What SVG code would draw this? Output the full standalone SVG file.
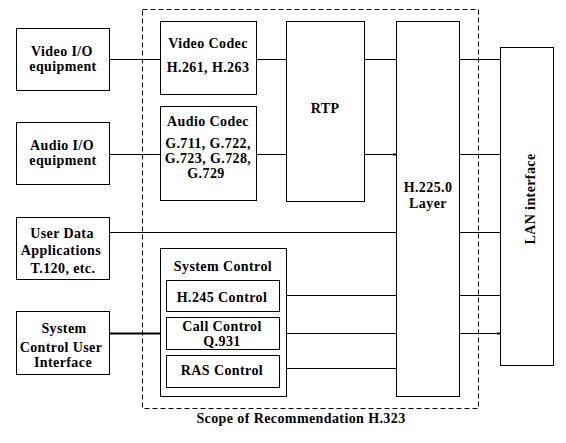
<svg xmlns="http://www.w3.org/2000/svg" width="566" height="443" viewBox="0 0 566 443">
<style>
.b{fill:#fff;stroke:#000;stroke-width:1}
.t{font-family:"Liberation Serif","Times New Roman",serif;font-weight:bold;font-size:14px;letter-spacing:0.4px;text-anchor:middle;fill:#000}
.c{stroke:#000;stroke-width:1;fill:none}
</style>
<rect width="566" height="443" fill="#fff"/>
<g id="scope">
<rect x="142.5" y="9.5" width="336" height="399" fill="none" stroke="#000" stroke-width="1" stroke-dasharray="5,3"/>
<text class="t" x="301" y="423">Scope of Recommendation H.323</text>
</g>
<g id="connectors">
<path class="c" d="M109 59.5H161M257 59.5H286M364 59.5H396M459 59.5H500"/>
<path class="c" d="M109 154.5H161M257 154.5H286M364 154.5H396M459 154.5H500"/>
<path stroke="#000" stroke-width="2" d="M393 154.5H396"/>
<path class="c" d="M109 232.5H396M459 232.5H500"/>
<path class="c" d="M280 295.5H396M459 295.5H500"/>
<path stroke="#000" stroke-width="2" d="M109 333.5H166"/>
<path class="c" d="M280 333.5H396M459 333.5H500"/>
<path stroke="#000" stroke-width="2" d="M497 333.5H500"/>
<path class="c" d="M280 368.5H396"/>
</g>
<g id="video-io"><rect class="b" x="16.5" y="28.5" width="93" height="62"/><text class="t" x="62" y="56">Video I/O</text><text class="t" x="63" y="71">equipment</text></g>
<g id="audio-io"><rect class="b" x="16.5" y="122.5" width="93" height="62"/><text class="t" x="62" y="150">Audio I/O</text><text class="t" x="63" y="165">equipment</text></g>
<g id="user-data"><rect class="b" x="16.5" y="217.5" width="93" height="62"/><text class="t" x="62" y="238">User Data</text><text class="t" x="61" y="255">Applications</text><text class="t" x="63" y="273">T.120, etc.</text></g>
<g id="sys-ui"><rect class="b" x="16.5" y="311.5" width="93" height="63"/><text class="t" x="64" y="333">System</text><text class="t" x="61" y="352">Control User</text><text class="t" x="63" y="367">Interface</text></g>
<g id="video-codec"><rect class="b" x="160.5" y="21.5" width="96" height="73"/><text class="t" x="208" y="48">Video Codec</text><text class="t" x="208" y="71.5">H.261, H.263</text></g>
<g id="audio-codec"><rect class="b" x="160.5" y="106.5" width="96" height="94"/><text class="t" x="208" y="126">Audio Codec</text><text class="t" x="208" y="148">G.711, G.722,</text><text class="t" x="208" y="163">G.723, G.728,</text><text class="t" x="206" y="178">G.729</text></g>
<g id="rtp"><rect class="b" x="286.5" y="21.5" width="78" height="180"/><text class="t" x="325" y="112.5">RTP</text></g>
<g id="h225"><rect class="b" x="396.5" y="21.5" width="63" height="375"/><text class="t" x="428" y="192">H.225.0</text><text class="t" x="428" y="207.5">Layer</text></g>
<g id="lan"><rect class="b" x="500.5" y="47.5" width="53" height="318"/><text class="t" transform="translate(535 199) rotate(-90)" x="0" y="0">LAN interface</text></g>
<g id="sys-control"><rect class="b" x="160.5" y="248.5" width="126" height="148"/><text class="t" x="223" y="271">System Control</text>
<rect class="b" x="166.5" y="280.5" width="113" height="31"/><text class="t" x="222" y="301.5">H.245 Control</text>
<rect class="b" x="166.5" y="317.5" width="113" height="32"/><text class="t" x="222" y="331">Call Control</text><text class="t" x="222" y="345.5">Q.931</text>
<rect class="b" x="166.5" y="355.5" width="113" height="32"/><text class="t" x="222" y="375">RAS Control</text></g>
</svg>
